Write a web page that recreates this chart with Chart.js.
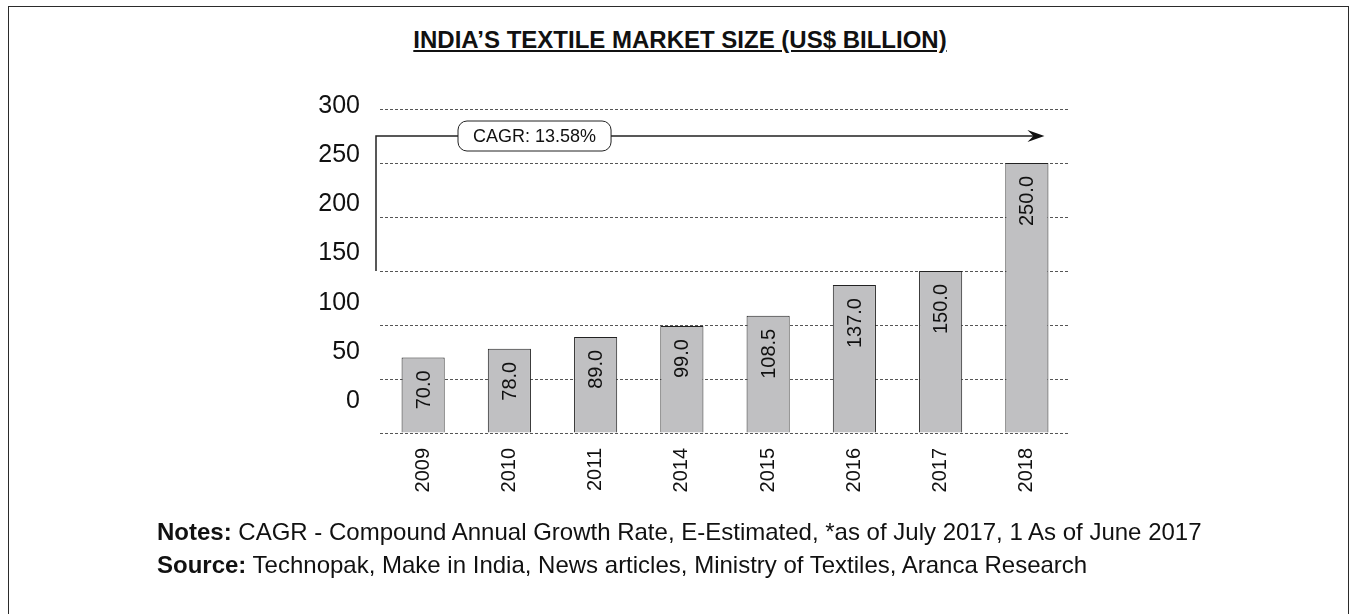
<!DOCTYPE html>
<html>
<head>
<meta charset="utf-8">
<title>India's Textile Market Size</title>
<script src="https://cdn.jsdelivr.net/npm/chart.js@4.4.1/dist/chart.umd.min.js"></script>
<style>
  html, body { margin: 0; padding: 0; background: #fff; width: 1356px; height: 614px; overflow: hidden; }
  #frame { position: absolute; left: 8px; top: 6px; width: 1339px; height: 640px; border: 1px solid #2b2b2b; }
  #title { position: absolute; left: 0; top: 28px; width: 1360px; text-align: center;
           font: bold 24px "Liberation Sans", Arial, sans-serif; line-height: 24px;
           text-decoration: underline; color: #111; }
  #wrap { position: absolute; left: 0; top: 0; width: 1356px; height: 614px; }
  .note { position: absolute; left: 157px; font: 24px "Liberation Sans", Arial, sans-serif;
          line-height: 24px; color: #111; white-space: nowrap; }
</style>
</head>
<body>
<div id="frame"></div>
<div id="title">INDIA’S TEXTILE MARKET SIZE (US$ BILLION)</div>
<div id="wrap"><canvas id="marketChart" width="1356" height="614"></canvas></div>
<div class="note" style="top:520px"><b>Notes:</b> CAGR - Compound Annual Growth Rate, E-Estimated, *as of July 2017, 1 As of June 2017</div>
<div class="note" style="top:553px"><b>Source:</b> Technopak, Make in India, News articles, Ministry of Textiles, Aranca Research</div>

<script>
// Market size by year (US$ billion)
const years = ['2009', '2010', '2011', '2014', '2015', '2016', '2017', '2018'];
const marketSize = [70.0, 78.0, 89.0, 99.0, 108.5, 137.0, 150.0, 250.0];
const yTicks = [0, 50, 100, 150, 200, 250, 300];

// CAGR bracket: rises from the 150 level, runs across at 275
const cagrText = 'CAGR: 13.58%';
const cagrFrom = 150;
const cagrAt = 275;

const FONT = '"Liberation Sans", Arial, sans-serif';

// Value written inside each bar, rotated, just under the bar top
const valueLabels = {
    id: 'valueLabels',
    afterDatasetsDraw(chart) {
        const ctx = chart.ctx;
        chart.getDatasetMeta(0).data.forEach((bar, i) => {
            ctx.save();
            ctx.translate(bar.x, bar.y + 13);
            ctx.rotate(-Math.PI / 2);
            ctx.font = '20px ' + FONT;
            ctx.fillStyle = '#111';
            ctx.textAlign = 'right';
            ctx.textBaseline = 'middle';
            ctx.fillText(marketSize[i].toFixed(1), 0, 1);
            ctx.restore();
        });
    }
};

// Bracket with arrow and rounded CAGR tag
const cagrArrow = {
    id: 'cagrArrow',
    afterDraw(chart) {
        const { ctx, chartArea, scales: { y } } = chart;
        const bars = chart.getDatasetMeta(0).data;
        const last = bars[bars.length - 1];
        const x0 = chartArea.left - 4;
        const yTop = y.getPixelForValue(cagrAt);
        const yBase = y.getPixelForValue(cagrFrom);
        const tipX = last.x + last.width / 2 - 4;

        ctx.save();
        ctx.strokeStyle = '#222';
        ctx.lineWidth = 1.5;
        ctx.beginPath();
        ctx.moveTo(x0, yBase);
        ctx.lineTo(x0, yTop);
        ctx.lineTo(tipX - 10, yTop);
        ctx.stroke();

        // arrow head
        ctx.fillStyle = '#111';
        ctx.beginPath();
        ctx.moveTo(tipX, yTop);
        ctx.lineTo(tipX - 17, yTop - 6);
        ctx.lineTo(tipX - 11, yTop);
        ctx.lineTo(tipX - 17, yTop + 6);
        ctx.closePath();
        ctx.fill();

        // tag
        ctx.font = '18px ' + FONT;
        const w = ctx.measureText(cagrText).width + 30;
        const h = 30;
        const bx = chartArea.left + 78;
        const by = yTop - h / 2;
        ctx.beginPath();
        ctx.roundRect(bx, by, w, h, 9);
        ctx.fillStyle = '#fff';
        ctx.fill();
        ctx.lineWidth = 1;
        ctx.strokeStyle = '#222';
        ctx.stroke();
        ctx.fillStyle = '#111';
        ctx.textAlign = 'center';
        ctx.textBaseline = 'middle';
        ctx.fillText(cagrText, bx + w / 2, yTop + 1);
        ctx.restore();
    }
};

const setTicks = scale => { scale.ticks = yTicks.map(v => ({ value: v })); };

const ctx = document.getElementById('marketChart').getContext('2d');
const marketChart = new Chart(ctx, {
    type: 'bar',
    data: {
        labels: years,
        datasets: [{
            label: 'Market size',
            data: marketSize,
            backgroundColor: '#c0c0c2',
            borderColor: '#222',
            borderWidth: 1,
            barPercentage: 0.5,
            categoryPercentage: 1.0
        }]
    },
    options: {
        responsive: false,
        animation: false,
        layout: { padding: { left: 0, right: 286, top: 109, bottom: 101 } },
        plugins: {
            legend: { display: false },
            title: { display: false },
            tooltip: { enabled: false }
        },
        scales: {
            x: {
                grid: { display: false, drawTicks: false },
                border: { display: false },
                ticks: {
                    font: { family: FONT, size: 20 },
                    color: '#111',
                    minRotation: 90,
                    maxRotation: 90,
                    padding: 15
                },
                afterFit: s => { s.height = 80; }
            },
            y: {
                position: 'left',
                weight: 0,
                min: 0,
                max: 300,
                afterBuildTicks: setTicks,
                grid: { color: '#555', lineWidth: 1, drawTicks: false },
                border: { display: false, dash: [3, 2] },
                ticks: { display: false },
                afterFit: s => { s.width = 20; }
            },
            // the value labels of the axis sit on their own, slightly tighter spacing
            yLabels: {
                type: 'linear',
                position: 'left',
                weight: 1,
                min: -29.5,
                max: 300,
                afterBuildTicks: setTicks,
                grid: { display: false, drawTicks: false },
                border: { display: false },
                ticks: {
                    font: { family: FONT, size: 25 },
                    color: '#111',
                    padding: 0,
                    labelOffset: -3
                },
                afterFit: s => { s.width = 360; }
            }
        }
    },
    plugins: [valueLabels, cagrArrow]
});
</script>
</body>
</html>
